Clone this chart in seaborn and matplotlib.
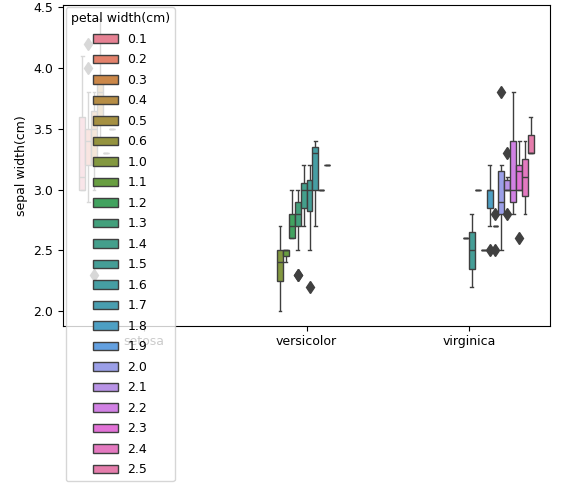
import matplotlib
matplotlib.use("Agg")
import matplotlib.pyplot as plt
import seaborn as sns
import pandas as pd

species_names = ["setosa", "versicolor", "virginica"]
setosa_sw = [3.5,3.0,3.2,3.1,3.6,3.9,3.4,3.4,2.9,3.1,3.7,3.4,3.0,3.0,4.0,4.4,3.9,3.5,3.8,3.8,3.4,3.7,3.6,3.3,3.4,3.0,3.4,3.5,3.4,3.2,3.1,3.4,4.1,4.2,3.1,3.2,3.5,3.6,3.0,3.4,3.5,2.3,3.2,3.5,3.8,3.0,3.8,3.2,3.7,3.3]
setosa_pw = [0.2,0.2,0.2,0.2,0.2,0.4,0.3,0.2,0.2,0.1,0.2,0.2,0.1,0.1,0.2,0.4,0.4,0.3,0.3,0.3,0.2,0.4,0.2,0.5,0.2,0.2,0.4,0.2,0.2,0.2,0.2,0.4,0.1,0.2,0.2,0.2,0.2,0.1,0.2,0.2,0.3,0.3,0.2,0.6,0.4,0.3,0.2,0.2,0.2,0.2]
versicolor_sw = [3.2,3.2,3.1,2.3,2.8,2.8,3.3,2.4,2.9,2.7,2.0,3.0,2.2,2.9,2.9,3.1,3.0,2.7,2.2,2.5,3.2,2.8,2.5,2.8,2.9,3.0,2.8,3.0,2.9,2.6,2.4,2.4,2.7,2.7,3.0,3.4,3.1,2.3,3.0,2.5,2.6,3.0,2.6,2.3,2.7,3.0,2.9,2.9,2.5,2.8]
versicolor_pw = [1.4,1.5,1.5,1.3,1.5,1.3,1.6,1.0,1.3,1.4,1.0,1.5,1.0,1.4,1.3,1.4,1.5,1.0,1.5,1.1,1.8,1.3,1.5,1.2,1.3,1.4,1.4,1.7,1.5,1.0,1.1,1.0,1.2,1.6,1.5,1.6,1.5,1.3,1.3,1.3,1.2,1.4,1.2,1.0,1.3,1.2,1.3,1.3,1.1,1.3]
virginica_sw = [3.3,2.7,3.0,2.9,3.0,3.0,2.5,2.9,2.5,3.6,3.2,2.7,3.0,2.5,2.8,3.2,3.0,3.8,2.6,2.2,3.2,2.8,2.8,2.7,3.3,3.2,2.8,3.0,2.8,3.0,2.8,3.8,2.8,2.8,2.6,3.0,3.4,3.1,3.0,3.1,3.1,3.1,2.7,3.2,3.3,3.0,2.5,3.0,3.4,3.0]
virginica_pw = [2.5,1.9,2.1,1.8,2.2,2.1,1.7,1.8,1.8,2.5,2.0,1.9,2.1,2.0,2.4,2.3,1.8,2.2,2.3,1.5,2.3,2.0,2.0,1.8,2.1,1.8,1.8,1.8,2.1,1.6,1.9,2.0,2.2,1.5,1.4,2.3,2.4,1.8,1.8,2.1,2.4,2.3,1.9,2.3,2.5,2.3,1.9,2.0,2.3,1.8]

df = pd.DataFrame({
    "species": [species_names[0]]*50 + [species_names[1]]*50 + [species_names[2]]*50,
    "sepal width(cm)": setosa_sw + versicolor_sw + virginica_sw,
    "petal width(cm)": [f"{v:.1f}" for v in setosa_pw + versicolor_pw + virginica_pw],
})
levels = sorted(df["petal width(cm)"].unique(), key=float)

fig, ax = plt.subplots(figsize=(5.73, 4.86), dpi=100)
sns.boxplot(data=df, x="species", y="sepal width(cm)", hue="petal width(cm)",
            hue_order=levels, palette=sns.color_palette("husl", len(levels)),
            order=species_names, ax=ax, saturation=0.75,
            flierprops=dict(marker="d", markerfacecolor="0.25", markeredgecolor="0.25", markersize=6))
ax.set_xlabel("")
ax.set_ylabel("sepal width(cm)", fontsize=9)
ax.tick_params(labelsize=9)
ax.set_ylim(1.88, 4.52)
leg = ax.legend(title="petal width(cm)", loc="upper left", framealpha=0.8,
                fontsize=9, title_fontsize=9, labelspacing=0.6, borderaxespad=0.2)
plt.subplots_adjust(left=0.11, right=0.96, top=0.99, bottom=0.33)
fig.savefig("out.png", dpi=100)
